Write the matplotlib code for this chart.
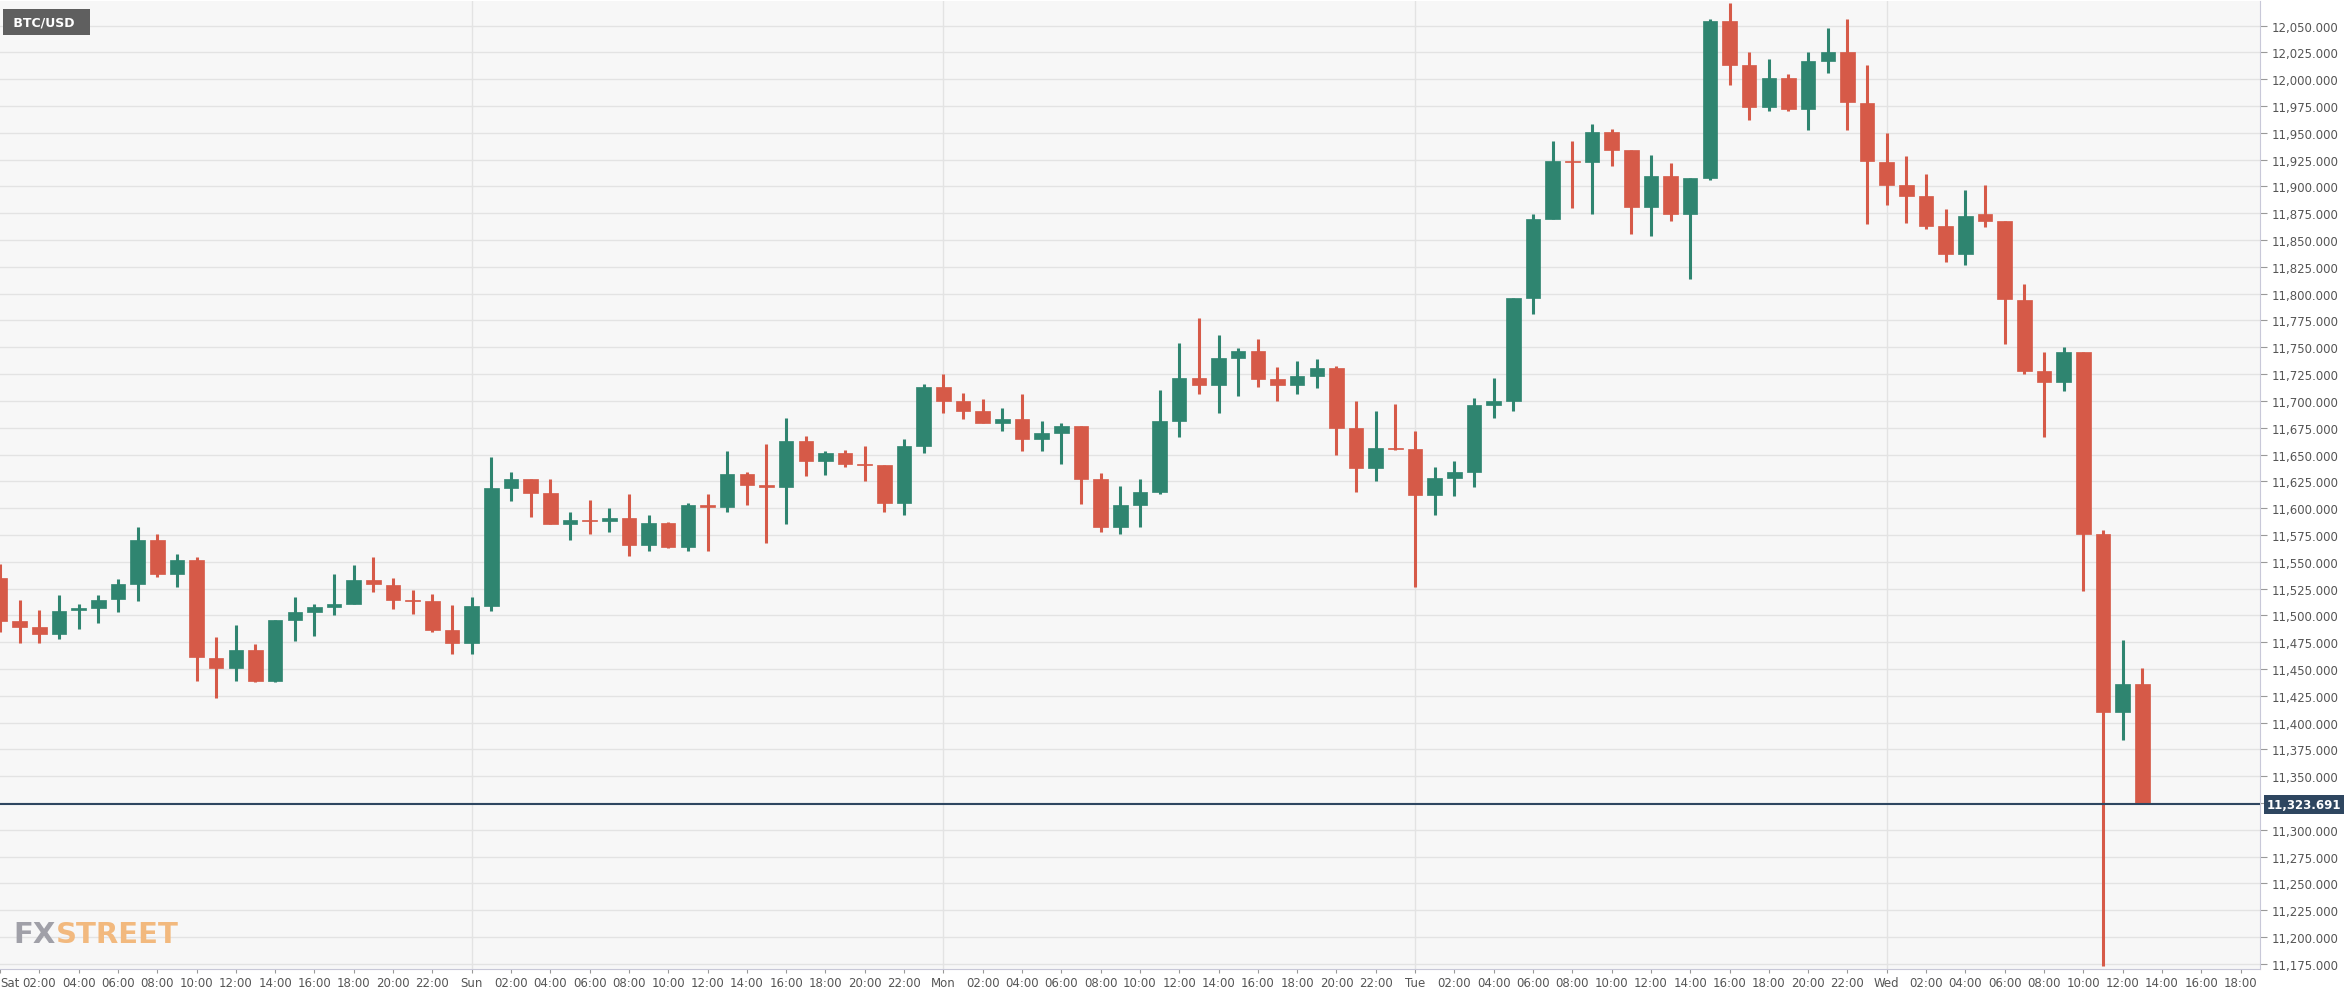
import matplotlib
matplotlib.use('Agg')
import matplotlib.pyplot as plt
from matplotlib.patches import Rectangle

# hourly candles, Sat 00:00 -> Wed 13:00
opens = [11535, 11495, 11489, 11483, 11505, 11507, 11515, 11529, 11570, 11539, 11552, 11460,
         11451, 11468, 11439, 11496, 11503, 11508, 11511, 11533, 11528, 11514, 11513, 11486,
         11474, 11509, 11619, 11627, 11614, 11585, 11589, 11588, 11591, 11566, 11586, 11564,
         11603, 11601, 11632, 11622, 11620, 11663, 11644, 11651, 11641, 11640, 11605, 11658,
         11713, 11700, 11691, 11679, 11683, 11664, 11670, 11677, 11627, 11582, 11603, 11615,
         11681, 11721, 11715, 11740, 11747, 11720, 11715, 11723, 11731, 11675, 11637, 11656,
         11655, 11612, 11628, 11634, 11696, 11700, 11796, 11870, 11924, 11923, 11951, 11934,
         11881, 11910, 11874, 11908, 12054, 12013, 11974, 12001, 11972, 12017, 12025, 11978,
         11923, 11901, 11891, 11863, 11837, 11874, 11868, 11794, 11728, 11718, 11746, 11576,
         11410, 11436]
highs = [11548, 11514, 11505, 11519, 11511, 11519, 11534, 11582, 11576, 11557, 11554, 11480,
         11491, 11473, 11496, 11517, 11511, 11539, 11547, 11554, 11535, 11524, 11520, 11510,
         11517, 11648, 11634, 11627, 11627, 11596, 11608, 11600, 11613, 11594, 11587, 11605,
         11613, 11653, 11634, 11660, 11684, 11667, 11653, 11654, 11658, 11640, 11664, 11716,
         11725, 11707, 11702, 11693, 11706, 11681, 11679, 11677, 11633, 11621, 11627, 11710,
         11754, 11777, 11761, 11749, 11758, 11732, 11737, 11739, 11733, 11700, 11691, 11697,
         11672, 11638, 11644, 11703, 11721, 11796, 11874, 11942, 11942, 11958, 11954, 11934,
         11929, 11922, 11908, 12056, 12071, 12025, 12019, 12005, 12025, 12048, 12056, 12013,
         11950, 11928, 11912, 11879, 11897, 11901, 11868, 11809, 11746, 11750, 11746, 11580,
         11477, 11451]
lows = [11484, 11474, 11474, 11478, 11487, 11493, 11503, 11513, 11536, 11526, 11439, 11423,
        11439, 11438, 11438, 11476, 11481, 11500, 11511, 11522, 11506, 11501, 11484, 11464,
        11464, 11504, 11607, 11592, 11585, 11570, 11576, 11578, 11555, 11560, 11563, 11560,
        11560, 11596, 11603, 11567, 11585, 11630, 11631, 11638, 11625, 11596, 11594, 11651,
        11689, 11683, 11679, 11672, 11653, 11653, 11641, 11604, 11578, 11576, 11582, 11613,
        11666, 11706, 11689, 11705, 11713, 11700, 11706, 11712, 11650, 11615, 11625, 11654,
        11526, 11594, 11611, 11620, 11684, 11691, 11781, 11870, 11880, 11874, 11919, 11856,
        11854, 11868, 11814, 11906, 11995, 11962, 11970, 11970, 11953, 12006, 11953, 11865,
        11883, 11866, 11860, 11830, 11827, 11862, 11753, 11725, 11666, 11709, 11523, 11173,
        11384, 11324]
closes = [11495, 11489, 11483, 11504, 11507, 11514, 11529, 11570, 11539, 11552, 11461, 11451,
          11468, 11439, 11496, 11503, 11508, 11511, 11533, 11529, 11514, 11513, 11486, 11474,
          11509, 11619, 11627, 11614, 11585, 11589, 11588, 11591, 11566, 11586, 11564, 11603,
          11601, 11632, 11622, 11620, 11663, 11644, 11651, 11641, 11640, 11605, 11658, 11713,
          11700, 11691, 11679, 11683, 11664, 11670, 11677, 11627, 11582, 11603, 11615, 11681,
          11721, 11715, 11740, 11747, 11720, 11715, 11723, 11731, 11675, 11637, 11656, 11655,
          11612, 11628, 11634, 11696, 11700, 11796, 11870, 11924, 11923, 11951, 11934, 11881,
          11910, 11874, 11908, 12054, 12013, 11974, 12001, 11972, 12017, 12025, 11979, 11924,
          11901, 11891, 11863, 11837, 11872, 11868, 11795, 11728, 11718, 11746, 11576, 11410,
          11436, 11323.691]

last_price = 11323.691
days = ['Sat', 'Sun', 'Mon', 'Tue', 'Wed']

up_col = '#2f8570'
down_col = '#d65a48'

fig = plt.figure(figsize=(23.47, 9.95), dpi=100)
fig.patch.set_facecolor('white')
ax = fig.add_axes([0.0, 0.025, 0.963, 0.973])
ax.set_facecolor('#f7f7f7')

w = 0.74
for i in range(len(opens)):
    o, h, l, c = opens[i], highs[i], lows[i], closes[i]
    col = up_col if c >= o else down_col
    ax.vlines(i, l, h, color=col, linewidth=2.2, zorder=3)
    bot = min(o, c)
    hgt = max(abs(c - o), 1.0)
    ax.add_patch(Rectangle((i - w / 2, bot), w, hgt, facecolor=col, edgecolor=col,
                           linewidth=0.5, zorder=4))

ax.set_xlim(0, 115)
ax.set_ylim(11170, 12073)

yticks = list(range(11175, 12051, 25))
ax.set_yticks(yticks)
ax.yaxis.tick_right()
ax.set_yticklabels(['{:,.3f}'.format(v) for v in yticks], color='#555555', fontsize=8.5)
ax.tick_params(axis='y', length=5, color='#999999', pad=3)

xt = list(range(0, 116, 2))
labels = []
for t in xt:
    if t % 24 == 0:
        labels.append(days[t // 24])
    else:
        labels.append('%02d:00' % (t % 24))
ax.set_xticks(xt)
ax.set_xticklabels(labels, color='#555555', fontsize=8.5)
ax.get_xticklabels()[0].set_horizontalalignment('left')
ax.tick_params(axis='x', length=3, color='#999999', pad=2)

ax.grid(axis='y', color='#e3e3e3', linewidth=1)
for d in range(24, 115, 24):
    ax.axvline(d, color='#e3e3e3', linewidth=1, zorder=0)
ax.set_axisbelow(True)

for s in ['left', 'top']:
    ax.spines[s].set_visible(False)
ax.spines['right'].set_color('#c8c8d8')
ax.spines['bottom'].set_color('#c8c8d8')

ax.axhline(last_price, color='#2e4660', linewidth=1.5, zorder=5)
ax.text(1.003, last_price, '{:,.3f}'.format(last_price), transform=ax.get_yaxis_transform(),
        va='center', ha='left', fontsize=8.5, color='white', fontweight='bold',
        bbox=dict(boxstyle='square,pad=0.25', facecolor='#2e4660', edgecolor='none'))

ax.text(0.004, 0.985, ' BTC/USD  ', transform=ax.transAxes, va='top', ha='left', fontsize=9,
        color='white', fontweight='bold',
        bbox=dict(boxstyle='square,pad=0.5', facecolor='#5f5f5f', edgecolor='none'))

fx = ax.text(0.006, 0.022, 'FX', transform=ax.transAxes, fontsize=21, fontweight='bold',
             color='#a0a0a8', va='bottom')
ax.annotate('STREET', xy=(1, 0), xycoords=fx, va='bottom', ha='left', fontsize=21,
            fontweight='bold', color='#f2b97e')

fig.savefig('out.png', dpi=100)
